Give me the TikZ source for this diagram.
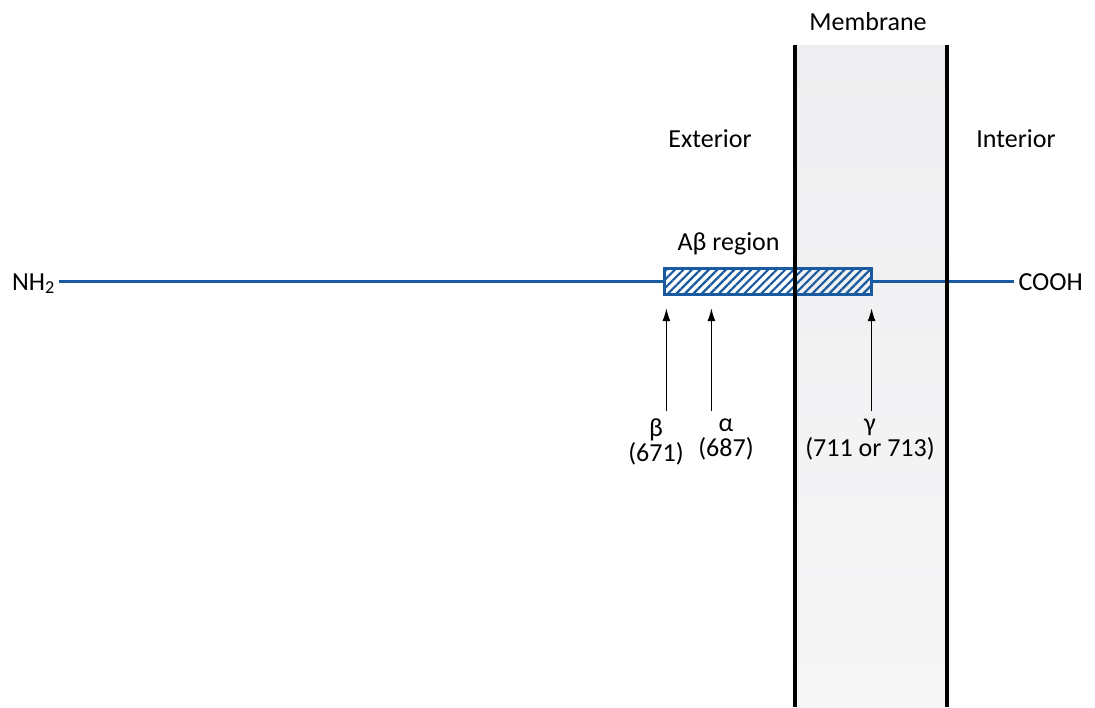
\documentclass[tikz,border=0pt]{standalone}
\usepackage{fontspec}
\setmainfont{Carlito}
\usetikzlibrary{arrows.meta,patterns.meta,positioning}
\definecolor{chainblue}{RGB}{26,90,160}
\definecolor{membgray}{RGB}{220,221,225}
\definecolor{membtop}{RGB}{238,238,240}
\definecolor{membbot}{RGB}{246,246,247}

\begin{document}
\begin{tikzpicture}[x=1pt,y=-1pt,
  every node/.style={font=\fontsize{26}{25}\selectfont, inner sep=0pt},
  chain/.style={chainblue, line width=3pt},
  cut/.style={line width=1.6pt, -{Latex[length=13pt,width=8pt]}},
  wall/.style={line width=4pt},
  lbl/.style={align=center, anchor=north}]
\useasboundingbox (0,0) rectangle (1095,707);
% membrane
\shade[top color=membtop, middle color=membgray, bottom color=membbot] (795,45) rectangle (947,707);
\node (memb) at (868,22) {Membrane};
\node (ext) at (710,139) {Exterior};
\node (int) at (1016,139) {Interior};
% protein chain
\node[anchor=base west, inner xsep=4pt] (nh2) at (8,290) {NH\textsubscript{2}};
\node[anchor=base east, inner xsep=4pt] (cooh) at (1087,290) {COOH};
\node[draw=chainblue, line width=3pt, minimum width=207pt, minimum height=26pt,
  pattern={Lines[angle=45,distance=6pt,line width=2.2pt]}, pattern color=chainblue]
  (abeta) at (768,281) {};
\draw[chain] (nh2.east |- abeta.west) -- (abeta.west);
\draw[chain] (abeta.east) -- (cooh.west |- abeta.east);
\node[anchor=base west] (region) at ([xshift=14pt,yshift=16pt]abeta.north west) {Aβ region};
% cleavage sites
\node[lbl] (beta) at (656,419) {β\\(671)};
\node[lbl] (alpha) at (726,419) {α\\(687)};
\node[lbl] (gamma) at (870,419) {γ\\(711 or 713)};
\coordinate (bcut) at ([xshift=3pt,yshift=-13pt]abeta.south west);
\coordinate (acut) at ([xshift=48pt,yshift=-13pt]abeta.south west);
\coordinate (gcut) at ([xshift=-1pt,yshift=-13pt]abeta.south east);
\draw[cut] ([yshift=8pt]bcut |- beta.north) -- (bcut);
\draw[cut] ([yshift=8pt]acut |- alpha.north) -- (acut);
\draw[cut] ([yshift=8pt]gcut |- gamma.north) -- (gcut);
% membrane walls
\draw[wall] (795,45) -- (795,707);
\draw[wall] (947,45) -- (947,707);
\end{tikzpicture}
\end{document}
